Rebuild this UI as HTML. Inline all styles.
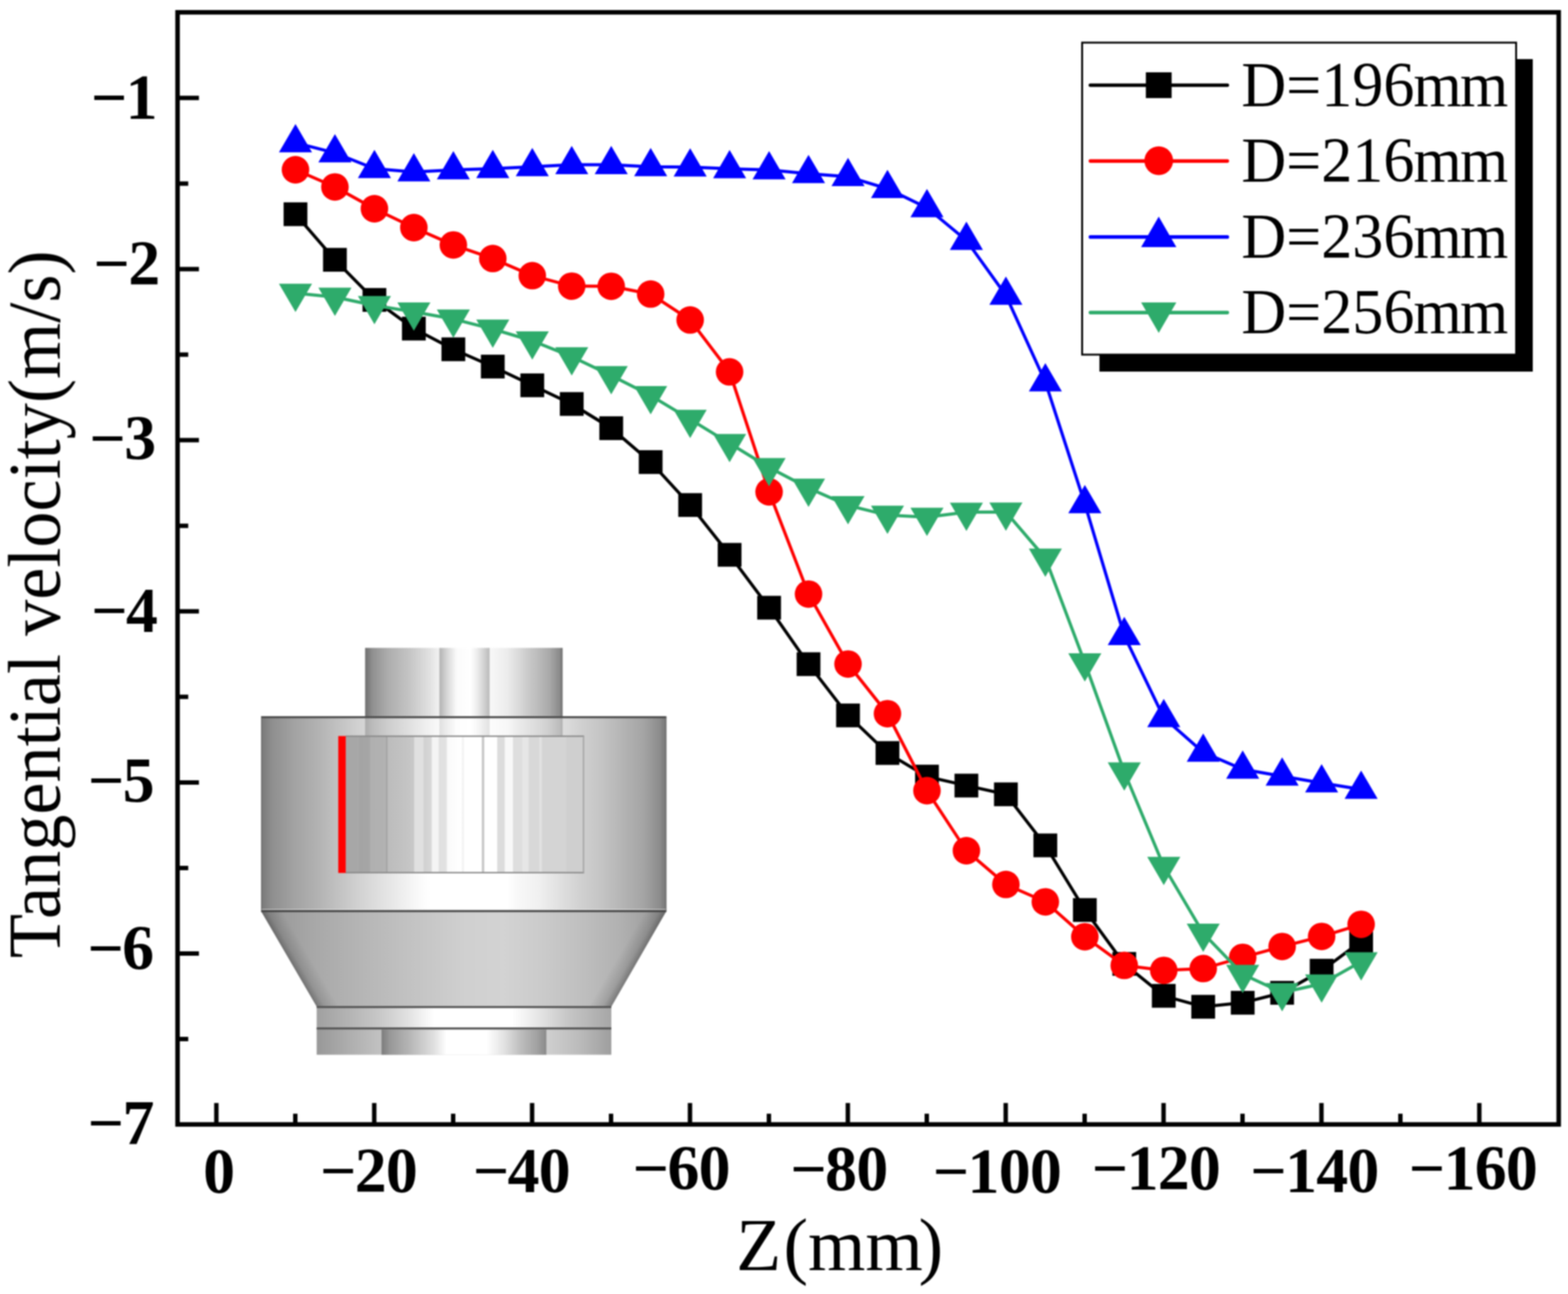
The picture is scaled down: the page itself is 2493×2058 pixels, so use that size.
<!DOCTYPE html>
<html lang="en"><head><meta charset="utf-8">
<title>Tangential velocity vs Z</title>
<style>
html,body{margin:0;padding:0;background:#fff;}
body{width:2493px;height:2058px;}
svg{display:block;}
text{font-family:"Liberation Serif","DejaVu Serif",serif;fill:#000;}
.tk{font-weight:bold;font-size:101.5px;}
.ax{font-size:118px;}
.lg{font-size:101px;}
</style></head><body>
<svg width="2493" height="2058" viewBox="0 0 2493 2058">
<rect width="2493" height="2058" fill="#fff"/>
<defs><filter id="soft" filterUnits="userSpaceOnUse" x="0" y="0" width="2493" height="2058" color-interpolation-filters="sRGB"><feGaussianBlur stdDeviation="0.9"/></filter></defs>
<g filter="url(#soft)">
<defs><linearGradient id="gTop" gradientUnits="userSpaceOnUse" x1="580.5" y1="0" x2="894.5" y2="0"><stop offset="0.0000" stop-color="#6e6e6e"/><stop offset="0.0366" stop-color="#909090"/><stop offset="0.1162" stop-color="#adadad"/><stop offset="0.2213" stop-color="#c4c4c4"/><stop offset="0.3296" stop-color="#e2e2e2"/><stop offset="0.3742" stop-color="#f2f2f2"/><stop offset="0.3774" stop-color="#b4b4b4"/><stop offset="0.4092" stop-color="#d2d2d2"/><stop offset="0.4634" stop-color="#fbfbfb"/><stop offset="0.5334" stop-color="#ffffff"/><stop offset="0.5621" stop-color="#f0f0f0"/><stop offset="0.6131" stop-color="#c8c8c8"/><stop offset="0.6274" stop-color="#bcbcbc"/><stop offset="0.6338" stop-color="#f8f8f8"/><stop offset="0.7213" stop-color="#ececec"/><stop offset="0.8264" stop-color="#cacaca"/><stop offset="0.9315" stop-color="#aaaaaa"/><stop offset="0.9857" stop-color="#8a8a8a"/><stop offset="1.0000" stop-color="#6a6a6a"/></linearGradient><linearGradient id="gBody" gradientUnits="userSpaceOnUse" x1="415" y1="0" x2="1059.5" y2="0"><stop offset="0.0000" stop-color="#787878"/><stop offset="0.0279" stop-color="#8f8f8f"/><stop offset="0.0807" stop-color="#a2a2a2"/><stop offset="0.1319" stop-color="#b0b0b0"/><stop offset="0.1846" stop-color="#c0c0c0"/><stop offset="0.2358" stop-color="#d0d0d0"/><stop offset="0.2870" stop-color="#dedede"/><stop offset="0.3398" stop-color="#ececec"/><stop offset="0.3910" stop-color="#fafafa"/><stop offset="0.4174" stop-color="#ffffff"/><stop offset="0.6082" stop-color="#ffffff"/><stop offset="0.6330" stop-color="#f8f8f8"/><stop offset="0.6858" stop-color="#f0f0f0"/><stop offset="0.7370" stop-color="#e0e0e0"/><stop offset="0.7898" stop-color="#d0d0d0"/><stop offset="0.8410" stop-color="#c4c4c4"/><stop offset="0.8922" stop-color="#b4b4b4"/><stop offset="0.9449" stop-color="#a4a4a4"/><stop offset="0.9837" stop-color="#8c8c8c"/><stop offset="1.0000" stop-color="#767676"/></linearGradient><linearGradient id="gInner" gradientUnits="userSpaceOnUse" x1="549.5" y1="0" x2="928.8" y2="0"><stop offset="0.0000" stop-color="#a6a6a6"/><stop offset="0.0540" stop-color="#a8a8a8"/><stop offset="0.0567" stop-color="#a4a4a4"/><stop offset="0.1015" stop-color="#a6a6a6"/><stop offset="0.1041" stop-color="#b0b0b0"/><stop offset="0.1695" stop-color="#b2b2b2"/><stop offset="0.1708" stop-color="#a2a2a2"/><stop offset="0.1743" stop-color="#a2a2a2"/><stop offset="0.1759" stop-color="#bcbcbc"/><stop offset="0.2386" stop-color="#c2c2c2"/><stop offset="0.2861" stop-color="#c8c8c8"/><stop offset="0.2887" stop-color="#e0e0e0"/><stop offset="0.3256" stop-color="#e0e0e0"/><stop offset="0.3282" stop-color="#d0d0d0"/><stop offset="0.3599" stop-color="#d8d8d8"/><stop offset="0.3625" stop-color="#f4f4f4"/><stop offset="0.3889" stop-color="#f4f4f4"/><stop offset="0.3915" stop-color="#e0e0e0"/><stop offset="0.4231" stop-color="#e2e2e2"/><stop offset="0.4258" stop-color="#fafafa"/><stop offset="0.4864" stop-color="#ffffff"/><stop offset="0.4891" stop-color="#f2f2f2"/><stop offset="0.4943" stop-color="#f2f2f2"/><stop offset="0.4970" stop-color="#ffffff"/><stop offset="0.5708" stop-color="#ffffff"/><stop offset="0.5721" stop-color="#c8c8c8"/><stop offset="0.5800" stop-color="#c8c8c8"/><stop offset="0.5813" stop-color="#ffffff"/><stop offset="0.6341" stop-color="#ffffff"/><stop offset="0.6367" stop-color="#dcdcdc"/><stop offset="0.6657" stop-color="#dcdcdc"/><stop offset="0.6683" stop-color="#f8f8f8"/><stop offset="0.7000" stop-color="#f8f8f8"/><stop offset="0.7026" stop-color="#dedede"/><stop offset="0.7395" stop-color="#dedede"/><stop offset="0.7422" stop-color="#e6e6e6"/><stop offset="0.7659" stop-color="#e6e6e6"/><stop offset="0.7685" stop-color="#d8d8d8"/><stop offset="0.8107" stop-color="#d8d8d8"/><stop offset="0.8133" stop-color="#e2e2e2"/><stop offset="0.8212" stop-color="#e2e2e2"/><stop offset="0.8239" stop-color="#d4d4d4"/><stop offset="0.9241" stop-color="#d4d4d4"/><stop offset="0.9267" stop-color="#cfcfcf"/><stop offset="0.9926" stop-color="#cfcfcf"/><stop offset="1.0000" stop-color="#b0b0b0"/></linearGradient><linearGradient id="gCone" gradientUnits="userSpaceOnUse" x1="415" y1="0" x2="1059.5" y2="0"><stop offset="0.0000" stop-color="#8c8c8c"/><stop offset="0.0543" stop-color="#9c9c9c"/><stop offset="0.1319" stop-color="#a8a8a8"/><stop offset="0.2358" stop-color="#b4b4b4"/><stop offset="0.3646" stop-color="#c2c2c2"/><stop offset="0.5043" stop-color="#d0d0d0"/><stop offset="0.5974" stop-color="#d3d3d3"/><stop offset="0.6905" stop-color="#cbcbcb"/><stop offset="0.7836" stop-color="#c0c0c0"/><stop offset="0.8922" stop-color="#b0b0b0"/><stop offset="0.9542" stop-color="#a0a0a0"/><stop offset="1.0000" stop-color="#8c8c8c"/></linearGradient><linearGradient id="gR1" gradientUnits="userSpaceOnUse" x1="503.5" y1="0" x2="972" y2="0"><stop offset="0.0000" stop-color="#a0a0a0"/><stop offset="0.1206" stop-color="#b6b6b6"/><stop offset="0.2145" stop-color="#c8c8c8"/><stop offset="0.3127" stop-color="#e2e2e2"/><stop offset="0.3981" stop-color="#ffffff"/><stop offset="0.6628" stop-color="#ffffff"/><stop offset="0.7503" stop-color="#e6e6e6"/><stop offset="0.8463" stop-color="#c8c8c8"/><stop offset="1.0000" stop-color="#a6a6a6"/></linearGradient><linearGradient id="gR2" gradientUnits="userSpaceOnUse" x1="503.5" y1="0" x2="972" y2="0"><stop offset="0.0000" stop-color="#989898"/><stop offset="0.1206" stop-color="#b0b0b0"/><stop offset="0.2188" stop-color="#c2c2c2"/><stop offset="0.7801" stop-color="#d0d0d0"/><stop offset="0.8890" stop-color="#bcbcbc"/><stop offset="1.0000" stop-color="#9e9e9e"/></linearGradient><linearGradient id="gR2i" gradientUnits="userSpaceOnUse" x1="606.6" y1="0" x2="868.7" y2="0"><stop offset="0.0000" stop-color="#7c7c7c"/><stop offset="0.0511" stop-color="#989898"/><stop offset="0.1770" stop-color="#b8b8b8"/><stop offset="0.3182" stop-color="#e0e0e0"/><stop offset="0.3945" stop-color="#ffffff"/><stop offset="0.6387" stop-color="#ffffff"/><stop offset="0.7379" stop-color="#e4e4e4"/><stop offset="0.8371" stop-color="#c0c0c0"/><stop offset="0.9477" stop-color="#a0a0a0"/><stop offset="1.0000" stop-color="#8a8a8a"/></linearGradient><linearGradient id="gEL" gradientUnits="userSpaceOnUse" x1="459" y1="1525" x2="485" y2="1509.5"><stop offset="0" stop-color="#000" stop-opacity="0.30"/><stop offset="0.35" stop-color="#000" stop-opacity="0.12"/><stop offset="1" stop-color="#000" stop-opacity="0"/></linearGradient><linearGradient id="gER" gradientUnits="userSpaceOnUse" x1="1015.5" y1="1525" x2="989.5" y2="1509.5"><stop offset="0" stop-color="#000" stop-opacity="0.30"/><stop offset="0.35" stop-color="#000" stop-opacity="0.12"/><stop offset="1" stop-color="#000" stop-opacity="0"/></linearGradient></defs>
<g id="inset">
<rect x="580.5" y="1030.4" width="314" height="110.5" fill="url(#gTop)"/>
<rect x="415" y="1140" width="644.5" height="309" fill="url(#gBody)"/>
<rect x="580.5" y="1141" width="314" height="29.5" fill="url(#gTop)" opacity="0.42"/>
<polygon points="415,1449 1059.5,1449 972,1601 503.5,1601" fill="url(#gCone)"/>
<polygon points="415,1449 450,1449 538.5,1601 503.5,1601" fill="url(#gEL)"/>
<polygon points="1059.5,1449 1024.5,1449 937,1601 972,1601" fill="url(#gER)"/>
<rect x="503.5" y="1601" width="468.5" height="35" fill="url(#gR1)"/>
<rect x="503.5" y="1635.5" width="468.5" height="42" fill="url(#gR2)"/>
<rect x="606.6" y="1637.5" width="262.1" height="40" fill="url(#gR2i)"/>
<rect x="549.5" y="1170.4" width="379.3" height="218" fill="url(#gInner)"/>
<path d="M549.5,1170.8H928.8M549.5,1387.9H928.8" stroke="#8a8a8a" stroke-width="2.2" fill="none"/>
<path d="M927.8,1170.8V1388" stroke="#a6a6a6" stroke-width="2.2" fill="none"/>
<path d="M415,1140.6H1059.5" stroke="#4c4c4c" stroke-width="3.2" fill="none"/>
<path d="M415,1446.6H1059.5" stroke="#f4f4f4" stroke-width="1.6" stroke-opacity="0.6" fill="none"/>
<path d="M415,1449H1059.5" stroke="#3e3e3e" stroke-width="3" fill="none"/>
<path d="M503.5,1601.6H972M503.5,1635.6H972" stroke="#545454" stroke-width="3.2" fill="none"/>
<path d="M415.8,1140V1449M1058.8,1140V1449" stroke="#6a6a6a" stroke-width="1.6" stroke-opacity="0.7" fill="none"/>
<rect x="537.8" y="1170.6" width="11.9" height="217.8" fill="#ff0000"/>
</g>
<g fill="none" stroke-linejoin="round">
<g stroke="#000000" stroke-width="5.0"><polyline points="469.8,340.7 532.5,413.2 595.3,477 658,522.6 720.8,555.5 783.5,583 846.3,612.8 909,642.5 971.8,681 1034.5,734.9 1097.3,803.2 1160,882.4 1222.8,966.5 1285.5,1056.3 1348.3,1137.8 1411,1197.6 1473.8,1235.1 1536.5,1249.4 1599.3,1263.3 1662,1344.5 1724.8,1447.3 1787.5,1533 1850.3,1583.8 1913,1601.2 1975.8,1594.8 2038.5,1579 2101.3,1543.8 2164.1,1497"/></g>
<g fill="#000000"><rect x="450.9" y="321.8" width="37.8" height="37.8"/><rect x="513.6" y="394.3" width="37.8" height="37.8"/><rect x="576.4" y="458.1" width="37.8" height="37.8"/><rect x="639.1" y="503.7" width="37.8" height="37.8"/><rect x="701.9" y="536.6" width="37.8" height="37.8"/><rect x="764.6" y="564.1" width="37.8" height="37.8"/><rect x="827.4" y="593.9" width="37.8" height="37.8"/><rect x="890.1" y="623.6" width="37.8" height="37.8"/><rect x="952.9" y="662.1" width="37.8" height="37.8"/><rect x="1015.6" y="716" width="37.8" height="37.8"/><rect x="1078.4" y="784.3" width="37.8" height="37.8"/><rect x="1141.1" y="863.5" width="37.8" height="37.8"/><rect x="1203.9" y="947.6" width="37.8" height="37.8"/><rect x="1266.6" y="1037.4" width="37.8" height="37.8"/><rect x="1329.4" y="1118.9" width="37.8" height="37.8"/><rect x="1392.1" y="1178.7" width="37.8" height="37.8"/><rect x="1454.9" y="1216.2" width="37.8" height="37.8"/><rect x="1517.6" y="1230.5" width="37.8" height="37.8"/><rect x="1580.4" y="1244.4" width="37.8" height="37.8"/><rect x="1643.1" y="1325.6" width="37.8" height="37.8"/><rect x="1705.9" y="1428.4" width="37.8" height="37.8"/><rect x="1768.6" y="1514.1" width="37.8" height="37.8"/><rect x="1831.4" y="1564.9" width="37.8" height="37.8"/><rect x="1894.1" y="1582.3" width="37.8" height="37.8"/><rect x="1956.9" y="1575.9" width="37.8" height="37.8"/><rect x="2019.6" y="1560.1" width="37.8" height="37.8"/><rect x="2082.4" y="1524.9" width="37.8" height="37.8"/><rect x="2145.2" y="1478.1" width="37.8" height="37.8"/></g>
<g stroke="#ff0000" stroke-width="5.0"><polyline points="469.8,270 532.5,297.3 595.3,332 658,362 720.8,389.6 783.5,411.2 846.3,438.4 909,455.1 971.8,455.3 1034.5,467.7 1097.3,508.9 1160,591.4 1222.8,782.3 1285.5,944.8 1348.3,1056.1 1411,1135.1 1473.8,1257.5 1536.5,1353 1599.3,1406.7 1662,1434.3 1724.8,1489.8 1787.5,1535.4 1850.3,1543.3 1913,1540.4 1975.8,1522.6 2038.5,1505.3 2101.3,1489.3 2164.1,1470.1"/></g>
<g fill="#ff0000"><circle cx="469.8" cy="270" r="21.9"/><circle cx="532.5" cy="297.3" r="21.9"/><circle cx="595.3" cy="332" r="21.9"/><circle cx="658" cy="362" r="21.9"/><circle cx="720.8" cy="389.6" r="21.9"/><circle cx="783.5" cy="411.2" r="21.9"/><circle cx="846.3" cy="438.4" r="21.9"/><circle cx="909" cy="455.1" r="21.9"/><circle cx="971.8" cy="455.3" r="21.9"/><circle cx="1034.5" cy="467.7" r="21.9"/><circle cx="1097.3" cy="508.9" r="21.9"/><circle cx="1160" cy="591.4" r="21.9"/><circle cx="1222.8" cy="782.3" r="21.9"/><circle cx="1285.5" cy="944.8" r="21.9"/><circle cx="1348.3" cy="1056.1" r="21.9"/><circle cx="1411" cy="1135.1" r="21.9"/><circle cx="1473.8" cy="1257.5" r="21.9"/><circle cx="1536.5" cy="1353" r="21.9"/><circle cx="1599.3" cy="1406.7" r="21.9"/><circle cx="1662" cy="1434.3" r="21.9"/><circle cx="1724.8" cy="1489.8" r="21.9"/><circle cx="1787.5" cy="1535.4" r="21.9"/><circle cx="1850.3" cy="1543.3" r="21.9"/><circle cx="1913" cy="1540.4" r="21.9"/><circle cx="1975.8" cy="1522.6" r="21.9"/><circle cx="2038.5" cy="1505.3" r="21.9"/><circle cx="2101.3" cy="1489.3" r="21.9"/><circle cx="2164.1" cy="1470.1" r="21.9"/></g>
<g stroke="#0000ff" stroke-width="5.0"><polyline points="469.8,227.2 532.5,243.2 595.3,268.2 658,273.5 720.8,270.3 783.5,268.2 846.3,265.3 909,262 971.8,262.1 1034.5,265.3 1097.3,265.7 1160,268.5 1222.8,270.3 1285.5,276.2 1348.3,281.1 1411,300 1473.8,330.4 1536.5,382.4 1599.3,469.8 1662,607.5 1724.8,801.3 1787.5,1011 1850.3,1141.4 1913,1196.6 1975.8,1223.5 2038.5,1234.5 2101.3,1245.3 2164.1,1255.5"/></g>
<g fill="#0000ff"><polygon points="469.8,197.2 496.1,242.2 443.5,242.2"/><polygon points="532.5,213.2 558.8,258.2 506.2,258.2"/><polygon points="595.3,238.2 621.6,283.2 569,283.2"/><polygon points="658,243.5 684.3,288.5 631.8,288.5"/><polygon points="720.8,240.3 747.1,285.3 694.5,285.3"/><polygon points="783.5,238.2 809.8,283.2 757.2,283.2"/><polygon points="846.3,235.3 872.6,280.3 820,280.3"/><polygon points="909,232 935.3,277 882.8,277"/><polygon points="971.8,232.1 998.1,277.1 945.5,277.1"/><polygon points="1034.5,235.3 1060.8,280.3 1008.2,280.3"/><polygon points="1097.3,235.7 1123.6,280.7 1071,280.7"/><polygon points="1160,238.5 1186.3,283.5 1133.8,283.5"/><polygon points="1222.8,240.3 1249.1,285.3 1196.5,285.3"/><polygon points="1285.5,246.2 1311.8,291.2 1259.2,291.2"/><polygon points="1348.3,251.1 1374.6,296.1 1322,296.1"/><polygon points="1411,270 1437.3,315 1384.8,315"/><polygon points="1473.8,300.4 1500.1,345.4 1447.5,345.4"/><polygon points="1536.5,352.4 1562.8,397.4 1510.2,397.4"/><polygon points="1599.3,439.8 1625.6,484.8 1573,484.8"/><polygon points="1662,577.5 1688.3,622.5 1635.8,622.5"/><polygon points="1724.8,771.3 1751.1,816.3 1698.5,816.3"/><polygon points="1787.5,981 1813.8,1026 1761.2,1026"/><polygon points="1850.3,1111.4 1876.6,1156.4 1824,1156.4"/><polygon points="1913,1166.6 1939.3,1211.6 1886.8,1211.6"/><polygon points="1975.8,1193.5 2002.1,1238.5 1949.5,1238.5"/><polygon points="2038.5,1204.5 2064.8,1249.5 2012.2,1249.5"/><polygon points="2101.3,1215.3 2127.6,1260.3 2075,1260.3"/><polygon points="2164.1,1225.5 2190.4,1270.5 2137.8,1270.5"/></g>
<g stroke="#2eab6b" stroke-width="5.0"><polyline points="469.8,466.2 532.5,472.5 595.3,485.7 658,496 720.8,507.3 783.5,523.3 846.3,542 909,567.2 971.8,597.2 1034.5,629.1 1097.3,666.8 1160,705.2 1222.8,743.5 1285.5,776.3 1348.3,803.9 1411,819.3 1473.8,822.5 1536.5,814.4 1599.3,814.3 1662,887.5 1724.8,1054 1787.5,1227.6 1850.3,1377.8 1913,1484.1 1975.8,1549.5 2038.5,1578.5 2101.3,1564.8 2164.1,1529.5"/></g>
<g fill="#2eab6b"><polygon points="443.5,451.2 496.1,451.2 469.8,496.2"/><polygon points="506.2,457.5 558.8,457.5 532.5,502.5"/><polygon points="569,470.7 621.6,470.7 595.3,515.7"/><polygon points="631.8,481 684.3,481 658,526"/><polygon points="694.5,492.3 747.1,492.3 720.8,537.3"/><polygon points="757.2,508.3 809.8,508.3 783.5,553.3"/><polygon points="820,527 872.6,527 846.3,572"/><polygon points="882.8,552.2 935.3,552.2 909,597.2"/><polygon points="945.5,582.2 998.1,582.2 971.8,627.2"/><polygon points="1008.2,614.1 1060.8,614.1 1034.5,659.1"/><polygon points="1071,651.8 1123.6,651.8 1097.3,696.8"/><polygon points="1133.8,690.2 1186.3,690.2 1160,735.2"/><polygon points="1196.5,728.5 1249.1,728.5 1222.8,773.5"/><polygon points="1259.2,761.3 1311.8,761.3 1285.5,806.3"/><polygon points="1322,788.9 1374.6,788.9 1348.3,833.9"/><polygon points="1384.8,804.3 1437.3,804.3 1411,849.3"/><polygon points="1447.5,807.5 1500.1,807.5 1473.8,852.5"/><polygon points="1510.2,799.4 1562.8,799.4 1536.5,844.4"/><polygon points="1573,799.3 1625.6,799.3 1599.3,844.3"/><polygon points="1635.8,872.5 1688.3,872.5 1662,917.5"/><polygon points="1698.5,1039 1751.1,1039 1724.8,1084"/><polygon points="1761.2,1212.6 1813.8,1212.6 1787.5,1257.6"/><polygon points="1824,1362.8 1876.6,1362.8 1850.3,1407.8"/><polygon points="1886.8,1469.1 1939.3,1469.1 1913,1514.1"/><polygon points="1949.5,1534.5 2002.1,1534.5 1975.8,1579.5"/><polygon points="2012.2,1563.5 2064.8,1563.5 2038.5,1608.5"/><polygon points="2075,1549.8 2127.6,1549.8 2101.3,1594.8"/><polygon points="2137.8,1514.5 2190.4,1514.5 2164.1,1559.5"/></g>
</g>
<rect x="282.3" y="19.6" width="2195.9" height="1768.7" fill="none" stroke="#000" stroke-width="7.2"/>
<path d="M344,1788.3v-34M469.5,1788.3v-17M595,1788.3v-34M720.5,1788.3v-17M846,1788.3v-34M971.5,1788.3v-17M1097,1788.3v-34M1222.5,1788.3v-17M1348,1788.3v-34M1473.5,1788.3v-17M1599,1788.3v-34M1724.5,1788.3v-17M1850,1788.3v-34M1975.5,1788.3v-17M2101,1788.3v-34M2226.5,1788.3v-17M2352,1788.3v-34M282.3,155.8h34M282.3,291.9h17M282.3,427.9h34M282.3,564h17M282.3,700.1h34M282.3,836.2h17M282.3,972.2h34M282.3,1108.3h17M282.3,1244.4h34M282.3,1380.5h17M282.3,1516.5h34M282.3,1652.6h17" fill="none" stroke="#000" stroke-width="7.0"/>
<text class="tk" x="322.9" y="1897">0</text>
<text class="tk" x="508.9" y="1896" dx="0 -2.7 -1.2">−20</text>
<text class="tk" x="751.9" y="1896" dx="0 -2.7 -1.2">−40</text>
<text class="tk" x="1006.1" y="1892" dx="0 -2.7 -1.2">−60</text>
<text class="tk" x="1256.7" y="1893" dx="0 -2.7 -1.2">−80</text>
<text class="tk" x="1483.2" y="1897" dx="0 -2.7 -1.2 -1.2">−100</text>
<text class="tk" x="1736" y="1892" dx="0 -2.7 -1.2 -1.2">−120</text>
<text class="tk" x="1988" y="1896" dx="0 -2.7 -1.2 -1.2">−140</text>
<text class="tk" x="2240" y="1892" dx="0 -2.7 -1.2 -1.2">−160</text>
<text class="tk" x="144.7" y="189" dx="0 -2.7">−1</text>
<text class="tk" x="148.8" y="453" dx="0 -2.7">−2</text>
<text class="tk" x="142.3" y="731" dx="0 -2.7">−3</text>
<text class="tk" x="145.2" y="1005" dx="0 -2.7">−4</text>
<text class="tk" x="139.9" y="1275" dx="0 -2.7">−5</text>
<text class="tk" x="139.2" y="1542" dx="0 -2.7">−6</text>
<text class="tk" x="139.6" y="1820" dx="0 -2.7">−7</text>
<text class="ax" transform="translate(1170.6,2020) scale(0.993,1)" dx="0 3.6 0 0 -6.6">Z(mm)</text>
<text class="ax" transform="translate(95,1523.8) rotate(-90) scale(0.9745,1)">Tangential velocity(m/s)</text>
<rect x="1748" y="94" width="689" height="497" fill="#000"/>
<rect x="1720.5" y="67.8" width="690" height="496.2" fill="#fff" stroke="#000" stroke-width="3"/>
<line x1="1733.6" y1="135.5" x2="1951.4" y2="135.5" stroke="#000000" stroke-width="5.6" stroke-linecap="round"/>
<rect x="1821.8" y="115" width="41" height="41" fill="#000000"/>
<text class="lg" transform="translate(1973.8,169) scale(0.977,1)" dx="0 0 0 0 0 -1.6 -2.6">D=196mm</text>
<line x1="1733.6" y1="256.1" x2="1951.4" y2="256.1" stroke="#ff0000" stroke-width="5.6" stroke-linecap="round"/>
<circle cx="1842.3" cy="255.6" r="22.8" fill="#ff0000"/>
<text class="lg" transform="translate(1973.8,289) scale(0.977,1)" dx="0 0 0 0 0 -1.6 -2.6">D=216mm</text>
<line x1="1733.6" y1="376.9" x2="1951.4" y2="376.9" stroke="#0000ff" stroke-width="5.6" stroke-linecap="round"/>
<polygon points="1842.3,344.6 1870.3,393.1 1814.3,393.1" fill="#0000ff"/>
<text class="lg" transform="translate(1973.8,410) scale(0.977,1)" dx="0 0 0 0 0 -1.6 -2.6">D=236mm</text>
<line x1="1733.6" y1="497.1" x2="1951.4" y2="497.1" stroke="#2eab6b" stroke-width="5.6" stroke-linecap="round"/>
<polygon points="1814.3,480.9 1870.3,480.9 1842.3,529.4" fill="#2eab6b"/>
<text class="lg" transform="translate(1973.8,530) scale(0.977,1)" dx="0 0 0 0 0 -1.6 -2.6">D=256mm</text>
</g>
</svg></body></html>
